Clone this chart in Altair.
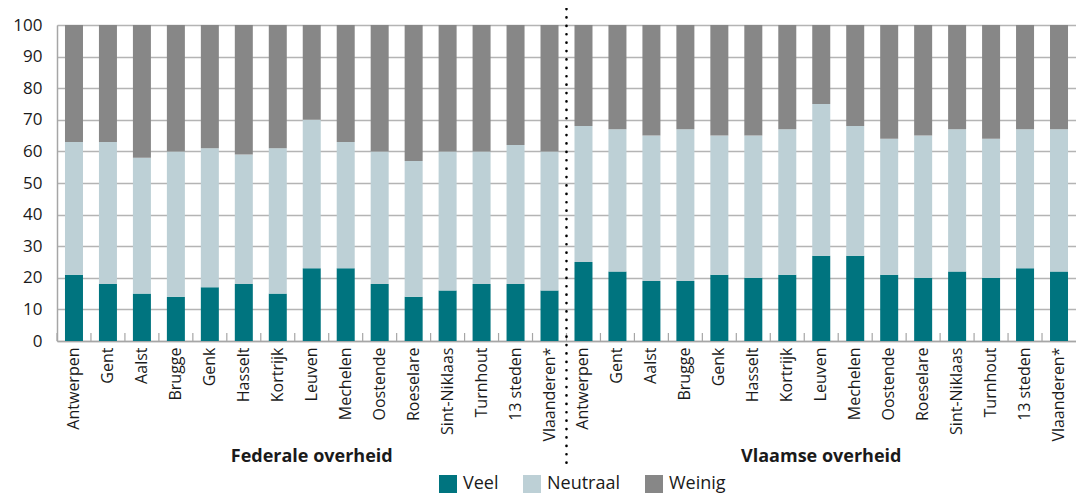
import altair as alt
import pandas as pd

cities = ["Antwerpen", "Gent", "Aalst", "Brugge", "Genk", "Hasselt", "Kortrijk",
          "Leuven", "Mechelen", "Oostende", "Roeselare", "Sint-Niklaas", "Turnhout",
          "13 steden", "Vlaanderen*"]
groups = ["Federale overheid", "Vlaamse overheid"]
group_keys = ["F", "V"]
answers = ["Veel", "Neutraal", "Weinig"]
colors = ["#00747f", "#bdd0d6", "#878787"]

fed_veel = [21, 18, 15, 14, 17, 18, 15, 23, 23, 18, 14, 16, 18, 18, 16]
fed_neutraal = [42, 45, 43, 46, 44, 41, 46, 47, 40, 42, 43, 44, 42, 44, 44]
fed_weinig = [37, 37, 42, 40, 39, 41, 39, 30, 37, 40, 43, 40, 40, 38, 40]

vla_veel = [25, 22, 19, 19, 21, 20, 21, 27, 27, 21, 20, 22, 20, 23, 22]
vla_neutraal = [43, 45, 46, 48, 44, 45, 46, 48, 41, 43, 45, 45, 44, 44, 45]
vla_weinig = [32, 33, 35, 33, 35, 35, 33, 25, 32, 36, 35, 33, 36, 33, 33]

series = {
    "F": [fed_veel, fed_neutraal, fed_weinig],
    "V": [vla_veel, vla_neutraal, vla_weinig],
}

keys = [f"{g}|{c}" for g in group_keys for c in cities]

rows = []
for g in group_keys:
    for ai, a in enumerate(answers):
        for ci, c in enumerate(cities):
            rows.append({"key": f"{g}|{c}", "answer": a, "idx": ai,
                         "value": series[g][ai][ci]})
df = pd.DataFrame(rows)

W, H = 1019, 316
FONT = "Open Sans"
TXT = "#1a1a1a"
GRID = "#b4b4b4"

x_enc = alt.X("key:N", sort=keys,
              scale=alt.Scale(paddingInner=0.47, paddingOuter=0.235),
              axis=alt.Axis(title=None, labelAngle=-90, ticks=False, tickSize=0,
                            labelPadding=6, labelFontSize=16, labelColor=TXT,
                            labelFont=FONT, domainColor="#a6a6a6", domainWidth=1.5,
                            labelExpr="split(datum.label, '|')[1]"))

bars = alt.Chart(df).mark_bar().encode(
    x=x_enc,
    y=alt.Y("value:Q", stack="zero",
            scale=alt.Scale(domain=[0, 100], nice=False),
            axis=alt.Axis(title=None, values=list(range(0, 101, 10)), ticks=False,
                          tickSize=0, labelPadding=15, labelFontSize=17,
                          labelColor=TXT, labelFont=FONT, gridColor=GRID,
                          gridWidth=1.5, domainColor="#a6a6a6", domainWidth=1.5)),
    color=alt.Color("answer:N", sort=answers,
                    scale=alt.Scale(domain=answers, range=colors),
                    legend=alt.Legend(orient="none", legendX=382, legendY=450,
                                      direction="horizontal", title=None,
                                      symbolType="square", symbolSize=324,
                                      symbolStrokeWidth=0, symbolOpacity=1,
                                      labelFontSize=18, labelFont=FONT,
                                      labelColor=TXT, labelOffset=6,
                                      columnPadding=24)),
    order=alt.Order("idx:Q"),
)

tick_df = pd.DataFrame({"key": keys})
ticks = alt.Chart(tick_df).mark_rule(xOffset=-8, color="#a6a6a6", strokeWidth=1.2).encode(
    x=alt.X("key:N", sort=keys, bandPosition=0),
    y=alt.value(H),
    y2=alt.value(H - 8),
)

sep_df = pd.DataFrame({"key": ["V|Antwerpen"]})
sep = alt.Chart(sep_df).mark_rule(xOffset=-8, color="black", strokeWidth=2.6,
                                  strokeDash=[0.1, 8.3], strokeCap="round").encode(
    x=alt.X("key:N", sort=keys, bandPosition=0),
    y=alt.value(-16),
    y2=alt.value(441),
)

title_df = pd.DataFrame({"key": ["F|Leuven", "V|Leuven"], "label": groups})
titles = alt.Chart(title_df).mark_text(fontSize=18, fontWeight="bold", font=FONT,
                                       color=TXT, align="center",
                                       baseline="middle").encode(
    x=alt.X("key:N", sort=keys),
    y=alt.value(432),
    text="label:N",
)

chart = alt.layer(bars, ticks, sep, titles).properties(
    width=W, height=H,
    autosize=alt.AutoSizeParams(type="none"),
    padding={"left": 49, "top": 17, "right": 0, "bottom": 155},
).configure_view(stroke=None).configure(font=FONT)

chart.save("out.html", embed_options={"renderer": "svg", "actions": False})
